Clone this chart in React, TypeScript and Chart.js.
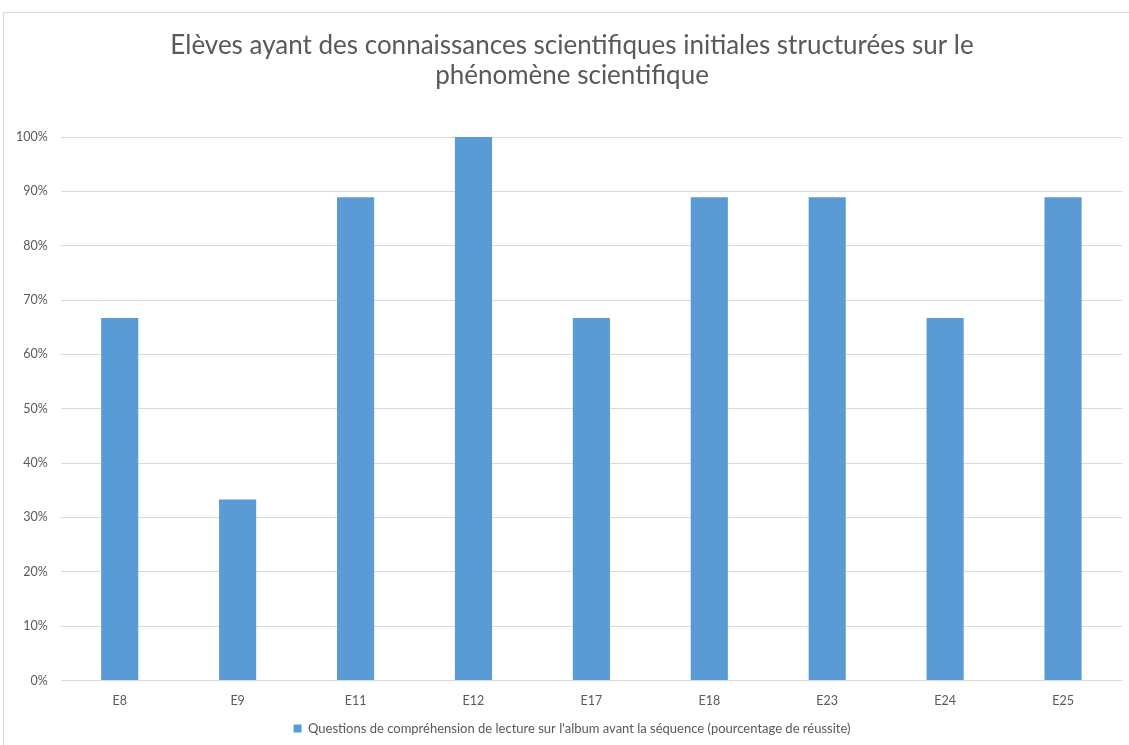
import React, { useEffect, useRef } from "react";
import { Chart, registerables } from "chart.js";

Chart.register(...registerables);

const categories = ["E8", "E9", "E11", "E12", "E17", "E18", "E23", "E24", "E25"];
const successRates = [0.667, 0.333, 0.889, 1.0, 0.667, 0.889, 0.889, 0.667, 0.889];
const titleLines = [
  "Elèves ayant des connaissances scientifiques initiales structurées sur le",
  "phénomène scientifique",
];
const seriesLabel =
  "Questions de compréhension de lecture sur l'album avant la séquence (pourcentage de réussite)";

export default function App() {
  const ref = useRef<HTMLCanvasElement | null>(null);

  useEffect(() => {
    if (!ref.current) return;
    const font = "Lato, 'Open Sans', sans-serif";
    const chart = new Chart(ref.current, {
      type: "bar",
      data: {
        labels: categories,
        datasets: [
          {
            label: seriesLabel,
            data: successRates,
            backgroundColor: "#5B9BD5",
            borderWidth: 0,
            categoryPercentage: 1,
            barPercentage: 0.315,
          },
        ],
      },
      options: {
        animation: false,
        responsive: false,
        maintainAspectRatio: false,
        layout: { padding: { left: 3, right: 4, top: 18, bottom: 0 } },
        plugins: {
          title: {
            display: true,
            text: titleLines,
            color: "#595959",
            font: { family: font, size: 26, weight: "normal", lineHeight: 1.154 },
            padding: { top: 13, bottom: 46 },
          },
          legend: {
            position: "bottom",
            labels: {
              boxWidth: 8,
              boxHeight: 8,
              color: "#595959",
              font: { family: font, size: 13 },
              padding: 8,
            },
          },
          tooltip: { enabled: false },
        },
        scales: {
          x: {
            grid: { display: false },
            border: { display: false },
            ticks: {
              color: "#595959",
              font: { family: font, size: 12.5, lineHeight: 1.24 },
              padding: 5,
            },
          },
          y: {
            min: 0,
            max: 1,
            grid: { color: "#d9d9d9", drawTicks: false },
            border: { display: false },
            ticks: {
              stepSize: 0.1,
              color: "#595959",
              padding: 13,
              font: { family: font, size: 12.5 },
              callback: (v: any) => Math.round(Number(v) * 100) + "%",
            },
          },
          yRight: {
            position: "right",
            display: true,
            grid: { display: false, drawTicks: false },
            border: { display: false },
            ticks: { display: false },
            afterFit: (s: any) => {
              s.width = 19;
            },
          },
        },
      },
    });
    return () => chart.destroy();
  }, []);

  return (
    <div
      style={{
        position: "fixed",
        left: 0,
        top: 0,
        width: 1129,
        height: 745,
        background: "#fff",
        overflow: "hidden",
      }}
    >
      <div
        style={{
          position: "absolute",
          left: 3,
          top: 12,
          width: 1200,
          height: 800,
          borderTop: "1px solid #d9d9d9",
          borderLeft: "1px solid #d9d9d9",
        }}
      />
      <canvas
        ref={ref}
        width={1145}
        height={745}
        style={{ position: "absolute", left: 0, top: 0, width: 1145, height: 745 }}
      />
    </div>
  );
}
